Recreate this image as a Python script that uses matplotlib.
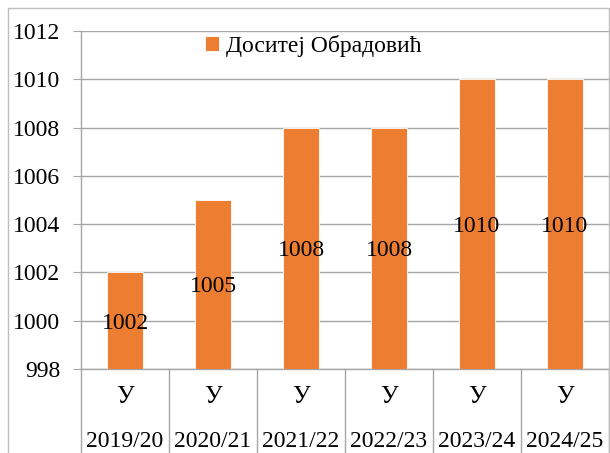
import numpy as np
import matplotlib
matplotlib.use("Agg")
import matplotlib.pyplot as plt
from matplotlib.patches import Rectangle
import matplotlib.transforms as mtransforms

plt.rcParams['font.family'] = ['Liberation Serif', 'DejaVu Serif']

years = ['2019/20', '2020/21', '2021/22', '2022/23', '2023/24', '2024/25']
sublabels = ['У', 'У', 'У', 'У', 'У', 'У']
values = [1002, 1005, 1008, 1008, 1010, 1010]
series_name = 'Доситеј Обрадовић'

bar_color = '#ED7D31'
grid_color = '#A6A6A6'

fig = plt.figure(figsize=(6.1, 4.53), dpi=100)
ax = fig.add_axes([81 / 610, 84 / 453, 528 / 610, 338 / 453])

# outer chart border
fig.patches.append(Rectangle((8 / 610, -0.1), 601 / 610, 1.1 - 8 / 453,
                             transform=fig.transFigure, fill=False,
                             edgecolor='#BFBFBF', linewidth=1.0))

x = np.arange(len(values))
ax.bar(x, values, width=0.4, color=bar_color, edgecolor='white',
       linewidth=0.6, label=series_name, zorder=3)

ymin, ymax = 998, 1012
ax.set_ylim(ymin, ymax)
ax.set_xlim(-0.5, len(values) - 0.5)
ax.set_yticks(np.arange(ymin, ymax + 1, 2))
ax.yaxis.grid(True, color=grid_color, linewidth=1.0, zorder=0)
ax.set_axisbelow(True)

for xi, v in zip(x, values):
    ax.text(xi, (ymin + v) / 2, str(v), ha='center', va='center_baseline',
            fontsize=17, zorder=4)

for s in ['top', 'right']:
    ax.spines[s].set_visible(False)
ax.spines['left'].set_color(grid_color)
ax.spines['bottom'].set_color(grid_color)
ax.spines['left'].set_linewidth(1.0)
ax.spines['bottom'].set_linewidth(1.0)

ax.tick_params(axis='y', length=6, color=grid_color, labelsize=17, pad=9)
ax.set_xticks([])

# two-level category axis
trans = mtransforms.blended_transform_factory(ax.transData, ax.transAxes)
for xi, sub, yr in zip(x, sublabels, years):
    ax.text(xi, -0.083, sub, transform=trans, ha='center', va='center',
            fontsize=18)
    ax.text(xi, -0.214, yr, transform=trans, ha='center', va='center',
            fontsize=17)
for b in np.arange(-0.5, len(values), 1.0):
    ax.plot([b, b], [0, -0.3], transform=trans, color=grid_color,
            linewidth=1.0, clip_on=False)

ax.legend(loc='center', bbox_to_anchor=(0.44, 0.957), frameon=False,
          fontsize=17, handlelength=0.6, handleheight=0.6,
          handletextpad=0.3)

fig.savefig('out.png', dpi=100)
